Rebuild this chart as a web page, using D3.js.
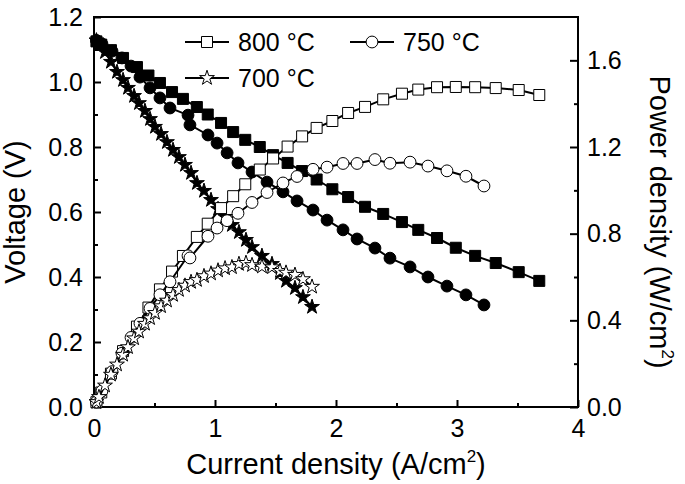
<!DOCTYPE html>
<html><head><meta charset="utf-8">
<script src="https://cdn.jsdelivr.net/npm/d3@7"></script>
<style>
body{margin:0;background:#fff}
text{font-family:"Liberation Sans",Arial,sans-serif;fill:#000}
</style>
</head><body>
<svg id="c" width="685" height="484"></svg>
<script>
// ---- data ----
const current800 = [0.02,0.06,0.14,0.24,0.355,0.45,0.545,0.645,0.735,0.85,0.94,1.05,1.15,1.25,1.37,1.48,1.60,1.72,1.84,1.97,2.10,2.24,2.39,2.545,2.68,2.835,2.99,3.15,3.32,3.51,3.68];
const voltage800 = [1.125,1.115,1.098,1.074,1.046,1.020,0.997,0.969,0.948,0.923,0.900,0.874,0.846,0.822,0.800,0.775,0.751,0.726,0.700,0.670,0.646,0.616,0.594,0.569,0.545,0.520,0.490,0.465,0.443,0.415,0.388];
const power800   = [0.022,0.067,0.154,0.258,0.371,0.459,0.543,0.625,0.697,0.785,0.846,0.918,0.973,1.028,1.096,1.147,1.202,1.249,1.288,1.320,1.357,1.385,1.420,1.446,1.465,1.476,1.477,1.476,1.472,1.463,1.440];

const current750 = [0.02,0.066,0.149,0.231,0.306,0.38,0.463,0.545,0.628,0.777,0.793,0.942,1.017,1.10,1.19,1.306,1.43,1.562,1.678,1.81,1.926,2.058,2.174,2.322,2.446,2.612,2.76,2.917,3.074,3.223];
const voltage750 = [1.128,1.117,1.095,1.074,1.049,1.015,0.982,0.951,0.92,0.898,0.868,0.837,0.812,0.782,0.751,0.723,0.692,0.662,0.634,0.606,0.575,0.545,0.517,0.489,0.458,0.431,0.40,0.372,0.345,0.314];
const power750   = [0.023,0.074,0.163,0.248,0.321,0.386,0.455,0.518,0.578,0.698,0.688,0.788,0.826,0.860,0.894,0.944,0.990,1.034,1.064,1.097,1.107,1.124,1.124,1.142,1.125,1.130,1.112,1.090,1.065,1.020];

const current700 = [0.02,0.041,0.091,0.140,0.190,0.240,0.281,0.331,0.372,0.421,0.463,0.504,0.554,0.603,0.653,0.702,0.752,0.802,0.851,0.909,0.967,1.025,1.083,1.140,1.198,1.256,1.306,1.388,1.471,1.537,1.587,1.661,1.727,1.802];
const voltage700 = [1.128,1.117,1.092,1.062,1.031,1.006,0.982,0.957,0.935,0.911,0.886,0.862,0.840,0.815,0.791,0.769,0.745,0.720,0.689,0.665,0.637,0.609,0.585,0.560,0.538,0.514,0.492,0.465,0.440,0.412,0.388,0.366,0.338,0.308];
const power700   = [0.023,0.046,0.099,0.149,0.196,0.241,0.276,0.317,0.348,0.384,0.410,0.434,0.465,0.491,0.517,0.540,0.560,0.577,0.586,0.604,0.616,0.630,0.640,0.645,0.660,0.665,0.655,0.648,0.645,0.628,0.620,0.610,0.590,0.555];

const legendLabels = ["800 \u00B0C","750 \u00B0C","700 \u00B0C"];
const xTicks = [0,1,2,3,4];
const xMinor = [0.5,1.5,2.5,3.5];
const vTicks = [0,0.2,0.4,0.6,0.8,1.0,1.2];
const vMinor = [0.1,0.3,0.5,0.7,0.9,1.1];
const pTicks = [0,0.4,0.8,1.2,1.6];
const pMinor = [0.2,0.6,1.0,1.4];

// ---- layout ----
const L=94, R=578, T=17, B=407;
const svg = d3.select("#c");
const x  = d3.scaleLinear().domain([0,4]).range([L,R]);
const yV = d3.scaleLinear().domain([0,1.2]).range([B,T]);
const yP = d3.scaleLinear().domain([0,1.8]).range([B,T]);
const fmt1 = d3.format(".1f");

function styleAxis(g){
  g.selectAll(".domain").remove();
  g.selectAll("line").attr("stroke","#000").attr("stroke-width",2);
  g.selectAll("text").style("font-size","25px").attr("fill","#000");
}
// left
svg.append("g").attr("transform",`translate(${L},0)`)
  .call(d3.axisLeft(yV).tickValues(vTicks).tickFormat(fmt1).tickSizeInner(-7).tickSizeOuter(0).tickPadding(11))
  .call(styleAxis);
svg.append("g").attr("transform",`translate(${L},0)`)
  .call(d3.axisLeft(yV).tickValues(vMinor).tickFormat("").tickSizeInner(-4).tickSizeOuter(0))
  .call(styleAxis);
// right
svg.append("g").attr("transform",`translate(${R},0)`)
  .call(d3.axisRight(yP).tickValues(pTicks).tickFormat(fmt1).tickSizeInner(-8).tickSizeOuter(0).tickPadding(9))
  .call(styleAxis);
svg.append("g").attr("transform",`translate(${R},0)`)
  .call(d3.axisRight(yP).tickValues(pMinor).tickFormat("").tickSizeInner(-4).tickSizeOuter(0))
  .call(styleAxis);
// bottom
svg.append("g").attr("transform",`translate(0,${B})`)
  .call(d3.axisBottom(x).tickValues(xTicks).tickFormat(d3.format("d")).tickSizeInner(-7).tickSizeOuter(0).tickPadding(12))
  .call(styleAxis);
svg.append("g").attr("transform",`translate(0,${B})`)
  .call(d3.axisBottom(x).tickValues(xMinor).tickFormat("").tickSizeInner(-4).tickSizeOuter(0))
  .call(styleAxis);
// frame
svg.append("rect").attr("x",L).attr("y",T).attr("width",R-L).attr("height",B-T)
  .attr("fill","none").attr("stroke","#000").attr("stroke-width",2);

// ---- series ----
const sym = {
  square: d3.symbol().type(d3.symbolSquare).size(121),
  circle: d3.symbol().type(d3.symbolCircle).size(110),
  star:   d3.symbol().type(d3.symbolStar).size(68)
};
function drawSeries(xs, ys, yScale, shape, filled){
  const pts = xs.map((v,i)=>[x(v), yScale(ys[i])]);
  const g = svg.append("g");
  g.append("path").attr("d", d3.line()(pts)).attr("fill","none").attr("stroke","#000").attr("stroke-width",2);
  g.selectAll("path.m").data(pts).join("path").attr("class","m")
    .attr("transform",d=>`translate(${d[0]},${d[1]})`)
    .attr("d", sym[shape]())
    .attr("fill", filled ? "#000" : "#fff")
    .attr("stroke","#000").attr("stroke-width",1);
}
drawSeries(current800, voltage800, yV, "square", true);
drawSeries(current750, voltage750, yV, "circle", true);
drawSeries(current700, voltage700, yV, "star", true);
drawSeries(current800, power800, yP, "square", false);
drawSeries(current750, power750, yP, "circle", false);
drawSeries(current700, power700, yP, "star", false);

// ---- legend ----
const legendItems = [
  {label:legendLabels[0], shape:"square", x0:185, y:42},
  {label:legendLabels[1], shape:"circle", x0:350, y:42},
  {label:legendLabels[2], shape:"star",   x0:185, y:78}
];
legendItems.forEach(d=>{
  const g = svg.append("g");
  g.append("line").attr("x1",d.x0).attr("x2",d.x0+44).attr("y1",d.y).attr("y2",d.y)
    .attr("stroke","#000").attr("stroke-width",2);
  g.append("path").attr("transform",`translate(${d.x0+22},${d.y})`).attr("d",sym[d.shape]())
    .attr("fill","#fff").attr("stroke","#000").attr("stroke-width",1);
  g.append("text").attr("x",d.x0+53).attr("y",d.y).attr("dy","0.36em")
    .style("font-size","25px").text(d.label);
});

// ---- axis titles ----
const xt = svg.append("text").attr("x",(L+R)/2).attr("y",474).attr("text-anchor","middle").style("font-size","29px");
xt.append("tspan").text("Current density (A/cm");
xt.append("tspan").attr("dy",-12).style("font-size","17px").text("2");
xt.append("tspan").attr("dy",12).text(")");

svg.append("text").attr("transform",`translate(25,${(T+B)/2}) rotate(-90)`)
  .attr("text-anchor","middle").style("font-size","29px").text("Voltage (V)");

const rt = svg.append("text").attr("transform",`translate(650,${(T+B)/2+10}) rotate(90)`)
  .attr("text-anchor","middle").style("font-size","29px");
rt.append("tspan").text("Power density (W/cm");
rt.append("tspan").attr("dy",-12).style("font-size","17px").text("2");
rt.append("tspan").attr("dy",12).text(")");
</script>
</body></html>
